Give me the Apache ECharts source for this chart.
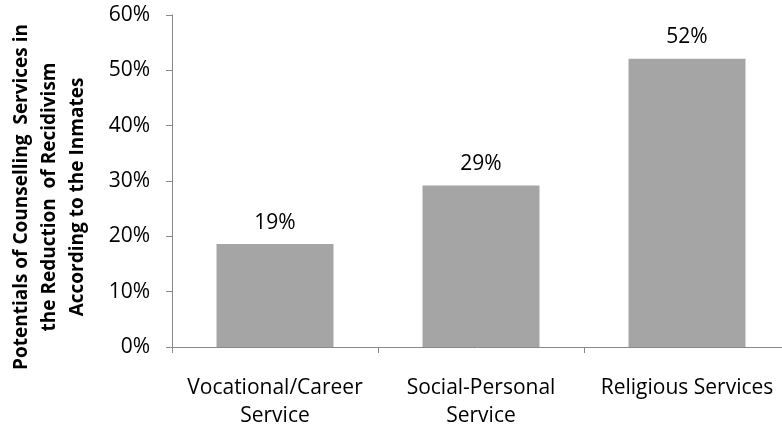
<!DOCTYPE html>
<html>
<head>
<meta charset="utf-8">
<script src="https://cdn.jsdelivr.net/npm/echarts@6/dist/echarts.min.js"></script>
<style>
html,body{margin:0;padding:0;background:#fff;}
#chart{width:782px;height:425px;}
</style>
</head>
<body>
<div id="chart"></div>
<script>
const categories = ['Vocational/Career\nService', 'Social-Personal\nService', 'Religious Services'];
const values = [0.186, 0.292, 0.521];
const dataLabels = ['19%', '29%', '52%'];
const yTicks = [0, 0.1, 0.2, 0.3, 0.4, 0.5, 0.6];
const yTitle = 'Potentials of Counselling  Services in\nthe Reduction  of Recidivism\nAccording to the Inmates';

const FONT = 'Open Sans';
const chart = echarts.init(document.getElementById('chart'));
chart.setOption({
  animation: false,
  backgroundColor: '#ffffff',
  grid: { left: 172, right: -8, top: 15, bottom: 78, containLabel: false, outerBoundsMode: 'none' },
  xAxis: {
    type: 'category',
    data: categories,
    boundaryGap: true,
    axisLine: { show: true, lineStyle: { color: '#898989', width: 1 } },
    axisTick: { show: true, alignWithLabel: false, length: 6, lineStyle: { color: '#898989' } },
    axisLabel: { color: '#000', fontFamily: FONT, fontSize: 21, lineHeight: 28, margin: 27, interval: 0 }
  },
  yAxis: {
    type: 'value',
    min: yTicks[0],
    max: yTicks[yTicks.length - 1],
    interval: 0.1,
    splitLine: { show: false },
    axisLine: { show: true, lineStyle: { color: '#898989', width: 1 } },
    axisTick: { show: true, length: 6, lineStyle: { color: '#898989' } },
    axisLabel: { color: '#000', fontFamily: FONT, fontSize: 21, margin: 22,
      formatter: v => Math.round(v * 100) + '%' },
    name: yTitle,
    nameLocation: 'middle',
    nameRotate: 90,
    nameGap: 80,
    nameTextStyle: { color: '#000', fontFamily: FONT, fontSize: 19, fontWeight: 'bold', lineHeight: 28, align: 'center', padding: [0, 32, 0, 0] }
  },
  series: [{
    type: 'bar',
    data: values,
    barWidth: 117,
    itemStyle: { color: '#a5a5a5' },
    label: {
      show: true, position: 'top', distance: 11,
      color: '#000', fontFamily: FONT, fontSize: 21,
      formatter: p => dataLabels[p.dataIndex]
    }
  }]
});
</script>
</body>
</html>
